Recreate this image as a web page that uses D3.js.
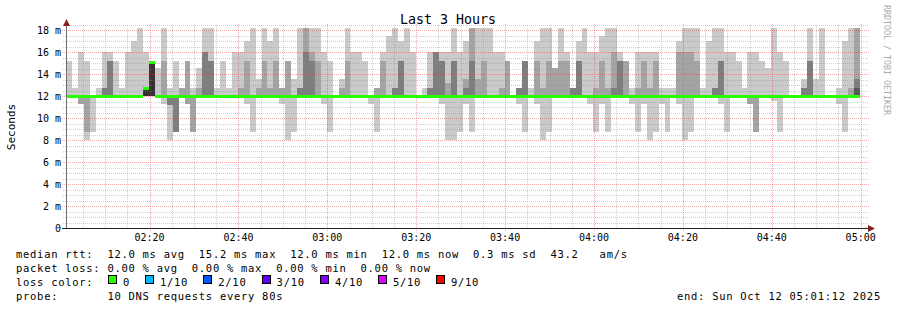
<!DOCTYPE html>
<html>
<head>
<meta charset="utf-8">
<script src="https://cdn.jsdelivr.net/npm/d3@7"></script>
<style>
  body { margin: 0; background: #fff; }
  svg { display: block; font-family: "DejaVu Sans Mono", monospace; }
  .legend { white-space: pre; }
</style>
</head>
<body>
<div id="chart"></div>
<script>
const width = 897;
const height = 310;

// graph window, one column every 80 s
const startTime = new Date(2025, 9, 12, 2, 1, 12);
const endTime = new Date(2025, 9, 12, 5, 1, 12);
const stepSeconds = 80;

// 10 sorted pings per step (ms). smoke bands: [p1,p10] [p2,p9] [p3,p8]
const ping10 = [
  15.2, 12.8, 16.0, 15.2, 12, 12.8, 16.0, 16.0, 15.2, 12.8,
  16.0, 17.0, 18.2, 16.0, 15.2, 14.6, 18.2, 12.8, 15.2, 12.8,
  15.2, 12.8, 14.6, 18.2, 18.2, 12.8, 15.2, 12.8, 16.0, 16.0,
  17.0, 18.2, 13.6, 18.2, 17.0, 18.2, 12.8, 15.2, 13.6, 18.2,
  18.2, 18.2, 18.2, 16.0, 15.2, 12, 13.6, 18.2, 16.0, 16.0,
  15.2, 12, 12.8, 16.0, 17.5, 18.2, 17.0, 18.2, 16.0, 12,
  12.8, 16.0, 16.0, 16.0, 16.0, 18.2, 16.0, 17.0, 18.2, 18.2,
  18.2, 18.2, 16.0, 16.0, 15.2, 12, 12.8, 15.2, 12.8, 17.0,
  18.2, 18.2, 14.6, 18.2, 16.0, 12.8, 17.0, 18.2, 16.0, 16.0,
  17.5, 18.2, 18.2, 16.0, 15.2, 12.8, 16.0, 16.0, 16.0, 16.0,
  12.8, 12.8, 12.8, 17.0, 18.2, 18.2, 18.2, 12.8, 17.0, 18.2,
  18.2, 16.0, 16.0, 15.2, 12.8, 16.0, 16.0, 15.2, 14.6, 18.2,
  16.0, 15.2, 12, 12, 13.6, 18.2, 13.6, 18.2, 12, 12,
  12.8, 17.0, 18.2, 18.2
];
const ping9 = [
  12, 12, 12, 12, 12, 12, 12.8, 15.2, 12, 12,
  12, 12, 12, 12.7, 15.1, 12, 15.2, 12, 12, 12.8,
  15.2, 12, 12.8, 16.0, 15.2, 12, 12, 12, 12, 12.8,
  15.2, 12, 12.8, 15.2, 12.8, 15.2, 12.8, 15.2, 12, 12.8,
  18.2, 16.0, 15.2, 12, 12, 12, 12.8, 15.2, 12, 12,
  12, 12, 12.8, 15.2, 12, 12.8, 15.2, 12, 12, 12,
  12, 12.8, 16.0, 15.2, 13.2, 15.2, 12, 13.6, 18.2, 13.6,
  15.2, 12, 12, 12.8, 15.2, 12, 12.8, 15.2, 12, 15.2,
  12.8, 15.2, 14.6, 15.2, 15.2, 12.8, 15.2, 12, 12, 12.8,
  15.2, 12.8, 16.0, 15.2, 15.2, 12, 12.8, 15.2, 12.8, 15.2,
  12, 12, 12, 16.0, 16.0, 16.0, 15.2, 12, 12, 12.8,
  15.2, 12, 12, 12, 12, 12, 12, 12, 12, 12,
  12, 12, 12, 12, 12.8, 15.2, 12, 12, 12, 12,
  12, 12, 12.8, 18.2
];
const ping8 = [
  12, 12, 12, 12, 12, 12, 12.8, 15.2, 12, 12,
  12, 12, 12, 12.7, 15.1, 12, 12, 12, 12, 12,
  12, 12, 12, 16.0, 15.2, 12, 12, 12, 12, 12,
  12, 12, 12, 12, 12, 12, 12, 12, 12, 12.8,
  16.0, 15.2, 12, 12, 12, 12, 12, 12, 12, 12,
  12, 12, 12, 12, 12, 12.8, 15.2, 12, 12, 12,
  12, 12.8, 16.0, 15.2, 12, 15.2, 12, 12.8, 15.2, 12,
  12, 12, 12, 12, 12, 12, 12.8, 15.2, 12, 12,
  12, 12, 12, 12, 12, 12.8, 15.2, 12, 12, 12,
  12, 12, 12.8, 15.2, 12, 12, 12, 12, 12, 12,
  12, 12, 12, 12, 12, 12, 12, 12, 12, 12.8,
  15.2, 12, 12, 12, 12, 12, 12, 12, 12, 12,
  12, 12, 12, 12, 12.8, 15.2, 12, 12, 12, 12,
  12, 12, 12, 13.6
];
const ping3 = [
  12, 12, 12, 12, 12, 12, 12, 12, 12, 12,
  12, 12, 12, 12, 12, 12, 12, 11.2, 8.8, 12,
  12, 12, 12, 12, 12, 12, 12, 12, 12, 12,
  12, 12, 12, 12, 12, 12, 12, 12, 12, 12,
  12, 12, 12, 12, 12, 12, 12, 12, 12, 12,
  12, 12, 12, 12, 12, 12, 12, 12, 12, 12,
  12, 12, 12, 12, 12, 12, 12, 12, 12, 12,
  12, 12, 12, 12, 12, 12, 12, 12, 12, 12,
  12, 12, 12, 12, 12, 12, 12, 12, 12, 12,
  12, 12, 12, 12, 12, 12, 12, 12, 12, 12,
  12, 12, 12, 12, 12, 12, 12, 12, 12, 12,
  12, 12, 12, 12, 12, 12, 12, 12, 12, 12,
  12, 12, 12, 12, 12, 12, 12, 12, 12, 12,
  12, 12, 12, 12
];
const ping2 = [
  12, 12, 11.3, 8.8, 12, 12, 12, 12, 12, 12,
  12, 12, 12, 12, 12, 12, 12, 11.2, 8.8, 12,
  11.3, 8.8, 12, 12, 12, 12, 12, 12, 12, 12,
  12, 12, 12, 12, 12, 12, 12, 12, 12, 12,
  12, 12, 12, 12, 12, 12, 12, 12, 12, 12,
  12, 12, 12, 12, 12, 12, 12, 12, 12, 12,
  12, 12, 12, 12, 12, 12, 12, 12, 12, 12,
  12, 12, 12, 12, 12, 12, 12, 12, 12, 12,
  12, 12, 12, 12, 12, 12, 12, 12, 12, 12,
  12, 12, 12, 12, 12, 12, 12, 12, 12, 12,
  12, 12, 12, 12, 12, 12, 12, 12, 12, 12,
  12, 12, 12, 12, 12, 11.3, 8.8, 12, 12, 12,
  12, 12, 12, 12, 12, 12, 12, 12, 12, 12,
  12, 12, 12, 12
];
const ping1 = [
  12, 12, 11.3, 8.0, 8.8, 12, 12, 12, 12, 12,
  12, 12, 12, 12, 12, 12, 11.3, 8.0, 8.8, 12,
  11.3, 8.8, 12, 12, 12, 12, 12, 12, 12, 12,
  11.3, 8.8, 12, 12, 12, 12, 11.3, 8.0, 8.8, 12,
  12, 12, 12, 11.3, 8.8, 12, 12, 12, 12, 12,
  12, 11.3, 8.8, 12, 12, 12, 12, 12, 12, 12,
  12, 12, 12, 11.3, 8.0, 8.0, 8.8, 11.3, 8.8, 12,
  12, 12, 12, 12, 12, 12, 11.3, 8.8, 12, 11.3,
  8.0, 8.8, 12, 12, 12, 12, 12, 12, 11.3, 8.8,
  11.3, 8.8, 12, 12, 12, 11.3, 8.8, 11.3, 8.0, 8.8,
  11.3, 8.8, 12, 11.3, 8.0, 8.8, 12, 12, 12, 12,
  11.3, 8.8, 12, 12, 12, 11.3, 8.8, 12, 12, 11.6,
  8.8, 12, 12, 12, 12, 12, 12, 12, 12, 12,
  11.3, 8.8, 12, 12
];
// steps where the inner pings leave the median: [step, p4, p5, p6, p7]
const innerPings = [
  [13, 12, 12, 12.7, 12.7],
  [14, 12, 12, 15.1, 15.1],
  [133, 12, 12, 12, 12.8]
];
const median = [
  12, 12, 12, 12, 12, 12, 12, 12, 12, 12,
  12, 12, 12, 12.8, 15.1, 12, 12, 12, 12, 12,
  12, 12, 12, 12, 12, 12, 12, 12, 12, 12,
  12, 12, 12, 12, 12, 12, 12, 12, 12, 12,
  12, 12, 12, 12, 12, 12, 12, 12, 12, 12,
  12, 12, 12, 12, 12, 12, 12, 12, 12, 12,
  12, 12, 12, 12, 12, 12, 12, 12, 12, 12,
  12, 12, 12, 12, 12, 12, 12, 12, 12, 12,
  12, 12, 12, 12, 12, 12, 12, 12, 12, 12,
  12, 12, 12, 12, 12, 12, 12, 12, 12, 12,
  12, 12, 12, 12, 12, 12, 12, 12, 12, 12,
  12, 12, 12, 12, 12, 12, 12, 12, 12, 12,
  12, 12, 12, 12, 12, 12, 12, 12, 12, 12,
  12, 12, 12, 12
];

const yTicks = [0, 2, 4, 6, 8, 10, 12, 14, 16, 18];
const lossLabels = ["0", "1/10", "2/10", "3/10", "4/10", "5/10", "9/10"];
const lossColors = ["#26ff00", "#00b8ff", "#0059ff", "#5e00ff", "#7e00ff", "#dd00ff", "#ff0000"];
const statLines = [
  "median rtt:  12.0 ms avg  15.2 ms max  12.0 ms min  12.0 ms now  0.3 ms sd  43.2   am/s",
  "packet loss: 0.00 % avg  0.00 % max  0.00 % min  0.00 % now",
  "loss color:",
  "probe:       10 DNS requests every 80s"
];
const endLabel = "end: Sun Oct 12 05:01:12 2025";

const svg = d3.select("#chart")
  .append("svg")
  .attr("width", width)
  .attr("height", height);

svg.append("rect").attr("width", width).attr("height", height).attr("fill", "#fff");

const x = d3.scaleTime().domain([startTime, endTime]).range([66, 866]);
const y = d3.scaleLinear().domain([0, 18.6]).range([228.3, 23.7]);

const stepTime = k => new Date(startTime.getTime() + k * stepSeconds * 1000);
const colX0 = k => Math.round(x(stepTime(k)));
const colX1 = k => Math.round(x(stepTime(k + 1)));

// smoke, outer band first
const bands = [
  { lo: ping1, hi: ping10, color: "#cacaca" },
  { lo: ping2, hi: ping9, color: "#a4a4a4" },
  { lo: ping3, hi: ping8, color: "#7e7e7e" }
];

const smoke = svg.append("g").attr("shape-rendering", "crispEdges");

bands.forEach(b => {
  smoke.append("g")
    .attr("fill", b.color)
    .selectAll("rect")
    .data(d3.range(ping10.length).filter(k => b.hi[k] > b.lo[k]))
    .join("rect")
    .attr("x", k => colX0(k))
    .attr("width", k => colX1(k) - colX0(k))
    .attr("y", k => Math.round(y(b.hi[k])))
    .attr("height", k => Math.round(y(b.lo[k])) - Math.round(y(b.hi[k])));
});

// inner bands [p4,p7] and [p5,p6]
smoke.append("g")
  .attr("fill", "#585858")
  .selectAll("rect")
  .data(innerPings.filter(d => d[4] > d[1]))
  .join("rect")
  .attr("x", d => colX0(d[0]))
  .attr("width", d => colX1(d[0]) - colX0(d[0]))
  .attr("y", d => Math.round(y(d[4])))
  .attr("height", d => Math.round(y(d[1])) - Math.round(y(d[4])));

smoke.append("g")
  .attr("fill", "#323232")
  .selectAll("rect")
  .data(innerPings.filter(d => d[3] > d[2]))
  .join("rect")
  .attr("x", d => colX0(d[0]))
  .attr("width", d => colX1(d[0]) - colX0(d[0]))
  .attr("y", d => Math.round(y(d[3])))
  .attr("height", d => Math.round(y(d[2])) - Math.round(y(d[3])));

// translucent grid on top of the smoke, like rrdtool
const grid = svg.append("g").attr("shape-rendering", "crispEdges");
const minorY = d3.range(0.5, 18.6, 0.5).filter(v => v % 2 !== 0);
const minorX = d3.timeMinute.every(5).range(startTime, endTime).filter(t => t.getMinutes() % 20 !== 0);
const majorX = d3.timeMinute.every(20).range(startTime, endTime);
const minorColor = "rgba(140,140,140,0.4)";
const majorColor = "rgba(225,60,60,0.45)";

grid.selectAll(".hminor").data(minorY).join("line")
  .attr("x1", 63).attr("x2", 869)
  .attr("y1", d => Math.round(y(d)) + 0.5).attr("y2", d => Math.round(y(d)) + 0.5)
  .attr("stroke", minorColor).attr("stroke-dasharray", "1,1");

grid.selectAll(".vminor").data(minorX).join("line")
  .attr("x1", d => Math.round(x(d)) + 0.5).attr("x2", d => Math.round(x(d)) + 0.5)
  .attr("y1", 228).attr("y2", 24)
  .attr("stroke", minorColor).attr("stroke-dasharray", "1,1");

grid.selectAll(".hmajor").data(yTicks.filter(v => v > 0)).join("line")
  .attr("x1", 62).attr("x2", 869)
  .attr("y1", d => Math.round(y(d)) + 0.5).attr("y2", d => Math.round(y(d)) + 0.5)
  .attr("stroke", majorColor).attr("stroke-dasharray", "1,1");

grid.selectAll(".vmajor").data(majorX).join("line")
  .attr("x1", d => Math.round(x(d)) + 0.5).attr("x2", d => Math.round(x(d)) + 0.5)
  .attr("y1", 231).attr("y2", 24)
  .attr("stroke", majorColor).attr("stroke-dasharray", "1,1");

// median, coloured by loss (all 0 here), drawn over the grid
svg.append("g")
  .attr("shape-rendering", "crispEdges")
  .attr("fill", lossColors[0])
  .selectAll("rect")
  .data(median)
  .join("rect")
  .attr("x", (d, k) => colX0(k))
  .attr("width", (d, k) => colX1(k) - colX0(k))
  .attr("y", d => Math.round(y(d)) - 1)
  .attr("height", 3);

// axes
svg.append("line")
  .attr("x1", 66.5).attr("x2", 66.5).attr("y1", 228).attr("y2", 22)
  .attr("stroke", "#707070");
svg.append("line")
  .attr("x1", 62).attr("x2", 871).attr("y1", 228.5).attr("y2", 228.5)
  .attr("stroke", "#202020");
svg.append("path")
  .attr("d", "M66.5,19 L63,26 L70,26 Z")
  .attr("fill", "#8b1e1e");
svg.append("path")
  .attr("d", "M875,228.5 L868,225 L868,232 Z")
  .attr("fill", "#8b1e1e");

svg.append("g")
  .selectAll("text")
  .data(yTicks)
  .join("text")
  .attr("x", 61)
  .attr("y", d => y(d))
  .attr("dy", "0.36em")
  .attr("text-anchor", "end")
  .attr("font-size", 10)
  .text(d => d === 0 ? "0" : d + " m");

svg.append("g")
  .selectAll("text")
  .data(majorX)
  .join("text")
  .attr("x", d => x(d))
  .attr("y", 241)
  .attr("text-anchor", "middle")
  .attr("font-size", 10)
  .text(d3.timeFormat("%H:%M"));

svg.append("text")
  .attr("x", 448).attr("y", 24)
  .attr("text-anchor", "middle")
  .attr("font-size", 13.3)
  .text("Last 3 Hours");

svg.append("text")
  .attr("transform", "translate(15,127) rotate(-90)")
  .attr("text-anchor", "middle")
  .attr("font-size", 11)
  .text("Seconds");

svg.append("text")
  .attr("transform", "translate(884,5) rotate(90)")
  .attr("font-size", 8.3)
  .attr("fill", "#aaa")
  .text("RRDTOOL / TOBI OETIKER");

// legend
const legend = svg.append("g")
  .attr("font-size", 10.5)
  .attr("letter-spacing", 0.71);

legend.selectAll("text.legend")
  .data(statLines)
  .join("text")
  .attr("class", "legend")
  .attr("x", 16)
  .attr("y", (d, i) => 258 + i * 14)
  .text(d => d);

const boxX = [108, 145, 203.3, 261.6, 320, 378, 436];
const lossItem = legend.selectAll("g.loss")
  .data(lossLabels)
  .join("g")
  .attr("class", "loss");
lossItem.append("rect")
  .attr("x", (d, i) => boxX[i] + 0.5)
  .attr("y", 275.5)
  .attr("width", 8)
  .attr("height", 8)
  .attr("fill", (d, i) => lossColors[i])
  .attr("stroke", "#000")
  .attr("shape-rendering", "crispEdges");
lossItem.append("text")
  .attr("x", (d, i) => boxX[i] + 15)
  .attr("y", 286)
  .text(d => d);

legend.append("text")
  .attr("class", "legend")
  .attr("x", 677)
  .attr("y", 300)
  .text(endLabel);
</script>
</body>
</html>
